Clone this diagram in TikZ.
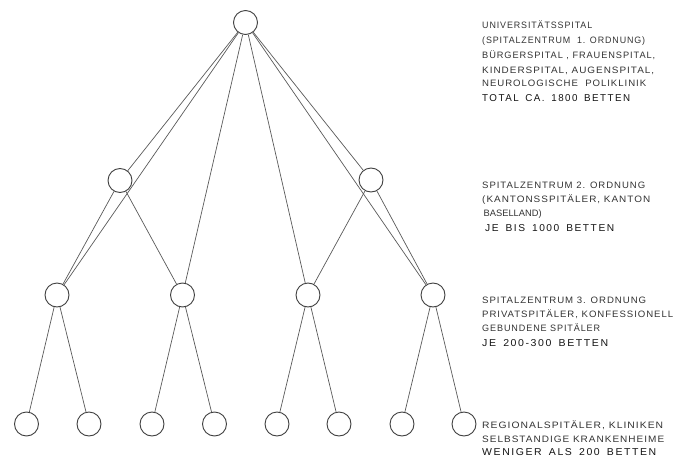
\documentclass[tikz,border=0pt]{standalone}
\usepackage{graphicx}
\usepackage{fontspec}
\setmainfont{Liberation Sans}
\newfontfamily\lettering[LetterSpace=10]{Liberation Sans}
\newfontfamily\widelettering[LetterSpace=15,WordSpace=1.6]{Liberation Sans}
\newfontfamily\tightlettering[LetterSpace=0]{Liberation Sans}
\newcommand{\fitw}[2]{\resizebox{#1}{\height}{#2}}
\begin{document}
\begin{tikzpicture}[x=1pt,y=-1pt,
  hub/.style={circle,draw=black!75,line width=0.9pt,fill=white,minimum size=24pt,inner sep=0pt},
  link/.style={draw=black!65,line width=0.7pt},
  lbl/.style={anchor=base west,inner sep=0pt,font=\lettering\fontsize{9.3}{12}\selectfont,text=black!80},
  tight lbl/.style={lbl,font=\tightlettering\fontsize{9.3}{12}\selectfont},
  bold lbl/.style={lbl,font=\widelettering\fontsize{10}{12}\selectfont,text=black!92}]
\useasboundingbox (0,0) rectangle (675,463);
% nodes
\node[hub] (t) at (245.5,22.5) {};
\node[hub] (m1) at (120,180.5) {};
\node[hub] (m2) at (371,180) {};
\node[hub] (a1) at (57,295) {};
\node[hub] (a2) at (182.5,295) {};
\node[hub] (a3) at (308,295) {};
\node[hub] (a4) at (433,295) {};
\node[hub] (b1) at (26.5,424) {};
\node[hub] (b2) at (89,424) {};
\node[hub] (b3) at (152,424) {};
\node[hub] (b4) at (214.5,424) {};
\node[hub] (b5) at (277,424) {};
\node[hub] (b6) at (339,424) {};
\node[hub] (b7) at (402,424) {};
\node[hub] (b8) at (464,424) {};
% connectors
\foreach \s/\e in {t/m1,t/m2,t/a1,t/a2,t/a3,t/a4,m1/a1,m1/a2,m2/a3,m2/a4,
  a1/b1,a1/b2,a2/b3,a2/b4,a3/b5,a3/b6,a4/b7,a4/b8}
  \draw[link] (\s) -- (\e);
% labels
\node[lbl] (u1) at (482,28.3) {\fitw{110pt}{UNIVERSITÄTSSPITAL}};
\node[lbl] (u2) at (482,43.3) {\fitw{163pt}{(SPITALZENTRUM\ \ 1. ORDNUNG)}};
\node[lbl] (u3) at (482,58.3) {\fitw{173pt}{BÜRGERSPITAL , FRAUENSPITAL,}};
\node[lbl] (u4) at (482,73.3) {\fitw{172pt}{KINDERSPITAL, AUGENSPITAL,}};
\node[lbl] (u5) at (482,86.7) {\fitw{164pt}{NEUROLOGISCHE\ \ POLIKLINIK}};
\node[bold lbl] (u6) at (482,101.7) {\fitw{148pt}{TOTAL CA. 1800 BETTEN}};
\node[lbl] (s1) at (482,188.3) {\fitw{163pt}{SPITALZENTRUM 2. ORDNUNG}};
\node[lbl] (s2) at (482,202.3) {\fitw{168pt}{(KANTONSSPITÄLER, KANTON}};
\node[tight lbl] (s3) at (483.5,216.7) {\fitw{58pt}{BASELLAND)}};
\node[bold lbl] (s4) at (485,231) {\fitw{129pt}{JE BIS 1000 BETTEN}};
\node[lbl] (r1) at (482,303.3) {\fitw{164pt}{SPITALZENTRUM 3. ORDNUNG}};
\node[lbl] (r2) at (482,317.3) {\fitw{191pt}{PRIVATSPITÄLER, KONFESSIONELL}};
\node[lbl] (r3) at (482,331.7) {\fitw{118pt}{GEBUNDENE SPITÄLER}};
\node[bold lbl] (r4) at (482,346) {\fitw{126pt}{JE 200-300 BETTEN}};
\node[lbl] (g1) at (482,428.3) {\fitw{181pt}{REGIONALSPITÄLER, KLINIKEN}};
\node[lbl] (g2) at (482,442.3) {\fitw{182pt}{SELBSTANDIGE KRANKENHEIME}};
\node[bold lbl] (g3) at (482,455.7) {\fitw{174pt}{WENIGER ALS 200 BETTEN}};
\end{tikzpicture}
\end{document}
